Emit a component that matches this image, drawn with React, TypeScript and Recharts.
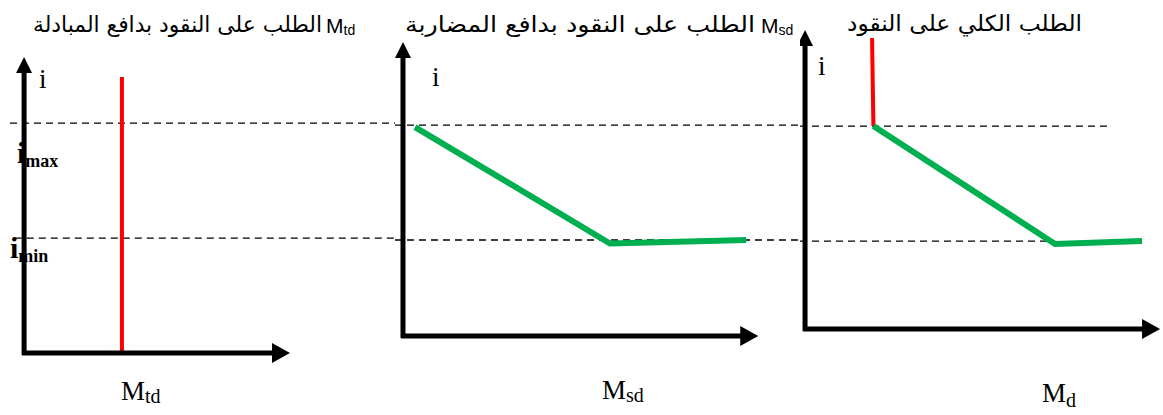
import React from 'react';
import { LineChart, Line, XAxis, YAxis, ReferenceLine } from 'recharts';

// interest rate levels (i) and money demand curves, M on x, i on y
const I_MAX = 8;
const I_MIN = 4;

const TITLES = [
  'الطلب على النقود بدافع المبادلة',
  'الطلب على النقود بدافع المضاربة',
  'الطلب الكلي على النقود',
];
const TITLE_SUBS = ['td', 'sd', ''];
const X_LABEL_SUBS = ['td', 'sd', 'd'];

const transactionsDemand = [{ m: 3.68, i: 0 }, { m: 3.68, i: 9.6 }];
const speculativeDemand = [{ m: 0.45, i: 7.93 }, { m: 7.78, i: 3.88 }, { m: 12.9, i: 4.0 }];
const totalVertical = [{ m: 2.52, i: 11.06 }, { m: 2.57, i: 8 }];
const totalSloped = [{ m: 2.57, i: 8 }, { m: 9.4, i: 3.9 }, { m: 12.67, i: 4.0 }];

const RED = '#ff0000';
const GREEN = '#00b050';
const SANS = "'Liberation Sans', Arial, 'DejaVu Sans', sans-serif";
const ARABIC = "'DejaVu Sans', sans-serif";
const SERIF = "'Liberation Serif', 'Times New Roman', serif";

const Arrow = (props: any) => {
  const { x1, y1, x2, y2, len = 17, half = 9 } = props;
  const a = Math.atan2(y2 - y1, x2 - x1);
  const c = Math.cos(a);
  const s = Math.sin(a);
  const bx = x2 - len * c;
  const by = y2 - len * s;
  const pts = `${x2},${y2} ${bx - half * s},${by + half * c} ${bx + half * s},${by - half * c}`;
  return (
    <g>
      <line x1={x1 - 2 * c} y1={y1 - 2 * s} x2={bx + c} y2={by + s} stroke="#000" strokeWidth={5} />
      <polygon points={pts} fill="#000" />
    </g>
  );
};

const panels = [
  {
    left: 0, width: 395, mLeft: 10, top: 57, bottom: 62,
    xDomain: [-0.53, 13.95], yDomain: [0, 10.3], xEnd: 10,
    maxFrom: -0.53, maxTo: 13.95, minFrom: -0.35, minTo: 13.95,
  },
  {
    left: 395, width: 405, mLeft: 0, top: 42, bottom: 79,
    xDomain: [-0.3, 14.92], yDomain: [0.66, 10.89], xEnd: 13.35,
    maxFrom: -0.3, maxTo: 14.92, minFrom: -0.3, minTo: 14.92,
  },
  {
    left: 800, width: 363, mLeft: 0, top: 30, bottom: 86,
    xDomain: [-0.19, 13.46], yDomain: [0.94, 11.34], xEnd: 13.35,
    maxFrom: -0.19, maxTo: 11.47, minFrom: -0.19, minTo: 9.4,
  },
];

const titlePos = [
  { end: 322, w: 289, mx: 326, y: 32 },
  { end: 755, w: 350, mx: 761, y: 32 },
  { end: 1082, w: 235, mx: 0, y: 31 },
];
const xLabelPos = [
  { x: 121, y: 400, dy: 3 },
  { x: 602, y: 399, dy: 3 },
  { x: 1042, y: 402, dy: 5 },
];
const iLabelPos = [
  { x: 39, y: 88 },
  { x: 432, y: 86 },
  { x: 818, y: 75 },
];

const Panel = ({ idx, children }: { idx: number; children: React.ReactNode }) => {
  const p = panels[idx];
  const t = titlePos[idx];
  const xl = xLabelPos[idx];
  const il = iLabelPos[idx];
  const L = p.left;
  return (
    <div style={{ position: 'absolute', left: p.left, top: 0 }}>
      <LineChart
        width={p.width}
        height={415}
        margin={{ top: p.top, bottom: p.bottom, left: p.mLeft, right: 0 }}
        style={{ overflow: 'visible' }}
      >
        <XAxis type="number" dataKey="m" domain={p.xDomain} hide allowDataOverflow />
        <YAxis type="number" dataKey="i" domain={p.yDomain} hide allowDataOverflow />
        <ReferenceLine
          segment={[{ x: p.maxFrom, y: I_MAX }, { x: p.maxTo, y: I_MAX }]}
          stroke="#000" strokeWidth={1.3} strokeDasharray="7 5" ifOverflow="visible"
        />
        <ReferenceLine
          segment={[{ x: p.minFrom, y: I_MIN }, { x: p.minTo, y: I_MIN }]}
          stroke="#000" strokeWidth={1.3} strokeDasharray="7 5" ifOverflow="visible"
        />
        {children}
        <text x={t.end - L} y={t.y} textAnchor="end" fontFamily={ARABIC} fontSize={22}
          textLength={t.w} lengthAdjust="spacingAndGlyphs" fill="#000">
          {TITLES[idx]}
        </text>
        {TITLE_SUBS[idx] && (
          <text x={t.mx - L} y={t.y + 1} fontFamily={SANS} fontSize={21} fill="#000">
            M<tspan fontSize={14} dy={2}>{TITLE_SUBS[idx]}</tspan>
          </text>
        )}
        <text x={il.x - L} y={il.y} fontFamily={SERIF} fontSize={27} fill="#000">i</text>
        <text x={xl.x - L} y={xl.y} fontFamily={SERIF} fontSize={27} fill="#000">
          M<tspan fontSize={20} dy={xl.dy}>{X_LABEL_SUBS[idx]}</tspan>
        </text>
        {idx === 0 && (
          <g fontFamily={SERIF} fontWeight="bold" fill="#000">
            <text x={17} y={163} fontSize={30}>i<tspan fontSize={18} dy={4}>max</tspan></text>
            <text x={10} y={258} fontSize={30}>i<tspan fontSize={18} dy={4}>min</tspan></text>
          </g>
        )}
        <ReferenceLine
          segment={[{ x: 0, y: p.yDomain[0] }, { x: 0, y: p.yDomain[1] }]}
          ifOverflow="visible"
          shape={(s: any) => <Arrow {...s} len={16} half={8} />}
        />
        <ReferenceLine
          segment={[{ x: 0, y: p.yDomain[0] }, { x: p.xEnd, y: p.yDomain[0] }]}
          ifOverflow="visible"
          shape={(s: any) => <Arrow {...s} len={18} half={10} />}
        />
      </LineChart>
    </div>
  );
}

export default function App() {
  return (
    <div style={{ position: 'absolute', left: 0, top: 0, width: 1163, height: 415, background: '#fff' }}>
      <Panel idx={0}>
        <Line data={transactionsDemand} dataKey="i" type="linear" stroke={RED} strokeWidth={4}
          dot={false} isAnimationActive={false} />
      </Panel>
      <Panel idx={1}>
        <Line data={speculativeDemand} dataKey="i" type="linear" stroke={GREEN} strokeWidth={6}
          dot={false} isAnimationActive={false} />
      </Panel>
      <Panel idx={2}>
        <Line data={totalVertical} dataKey="i" type="linear" stroke={RED} strokeWidth={4}
          dot={false} isAnimationActive={false} />
        <Line data={totalSloped} dataKey="i" type="linear" stroke={GREEN} strokeWidth={6}
          dot={false} isAnimationActive={false} />
      </Panel>
    </div>
  );
}
